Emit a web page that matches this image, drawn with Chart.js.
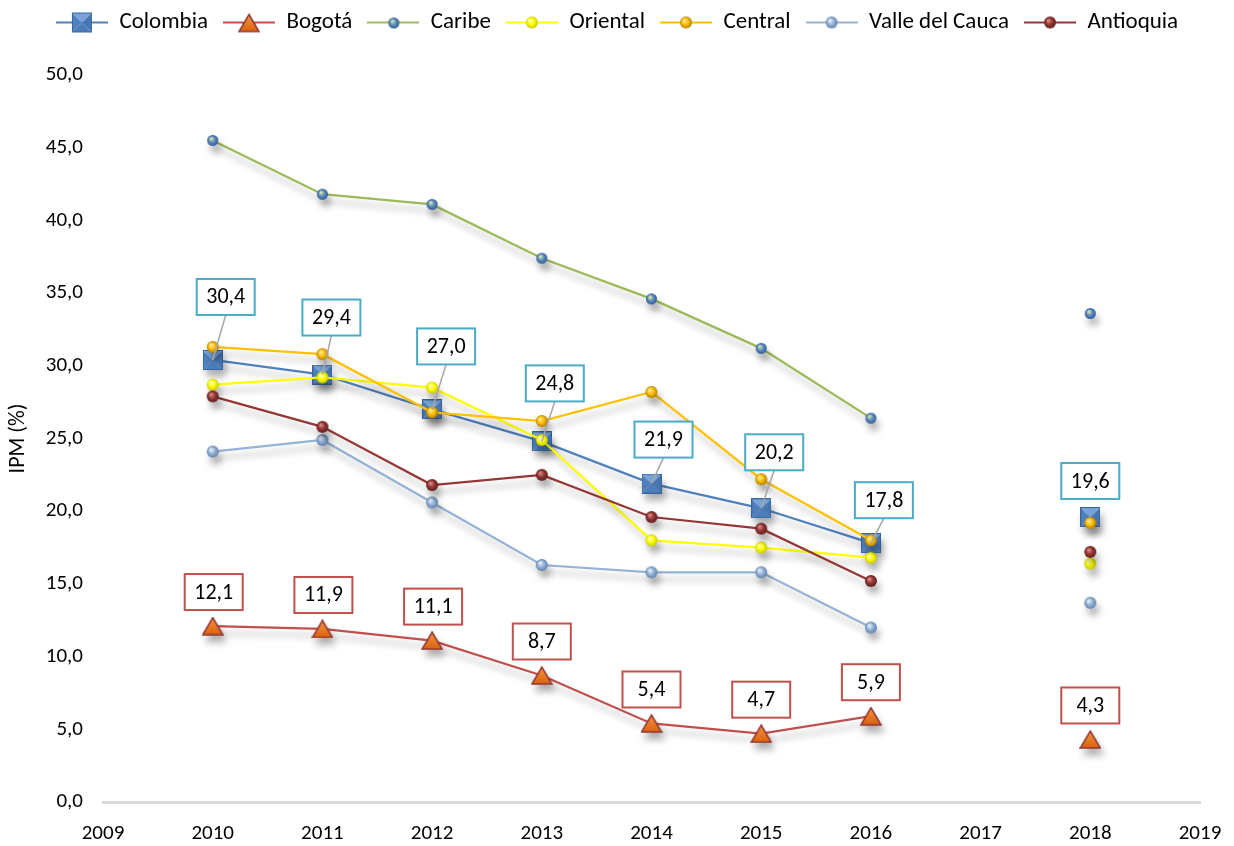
<!DOCTYPE html>
<html>
<head>
<meta charset="utf-8">
<script src="https://cdn.jsdelivr.net/npm/chart.js@4"></script>
<style>
html,body{margin:0;padding:0;background:#fff;}
#wrap{width:1234px;height:846px;}
</style>
</head>
<body>
<div id="wrap"><canvas id="c" width="1234" height="846"></canvas></div>
<script>
// ---- data ----
const years = [2010, 2011, 2012, 2013, 2014, 2015, 2016, 2017, 2018];
const colombia  = [30.4, 29.4, 27.0, 24.8, 21.9, 20.2, 17.8, null, 19.6];
const bogota    = [12.1, 11.9, 11.1, 8.7, 5.4, 4.7, 5.9, null, 4.3];
const caribe    = [45.5, 41.8, 41.1, 37.4, 34.6, 31.2, 26.4, null, 33.6];
const oriental  = [28.7, 29.2, 28.5, 24.9, 18.0, 17.5, 16.8, null, 16.4];
const central   = [31.3, 30.8, 26.8, 26.2, 28.2, 22.2, 18.0, null, 19.2];
const valle     = [24.1, 24.9, 20.6, 16.3, 15.8, 15.8, 12.0, null, 13.7];
const antioquia = [27.9, 25.8, 21.8, 22.5, 19.6, 18.8, 15.2, null, 17.2];
const seriesNames = ['Colombia', 'Bogotá', 'Caribe', 'Oriental', 'Central', 'Valle del Cauca', 'Antioquia'];
const xTickValues = [2009, 2010, 2011, 2012, 2013, 2014, 2015, 2016, 2017, 2018, 2019];
const yAxisTitle = 'IPM (%)';

const FONT = 'Carlito, Lato, "Open Sans", sans-serif';

// ---- marker images ----
function sphere(light, base, dark, r) {
  const c = document.createElement('canvas');
  const s = r * 2 + 2;
  c.width = s; c.height = s;
  const g = c.getContext('2d');
  const grd = g.createRadialGradient(s/2 - r*0.3, s/2 - r*0.35, r*0.1, s/2, s/2, r);
  grd.addColorStop(0, light);
  grd.addColorStop(0.5, base);
  grd.addColorStop(1, dark);
  g.fillStyle = grd;
  g.beginPath(); g.arc(s/2, s/2, r, 0, Math.PI*2); g.fill();
  return c;
}
function squareMarker(size) {
  const c = document.createElement('canvas');
  c.width = size; c.height = size;
  const g = c.getContext('2d');
  const m = size/2;
  const tri = (pts, col) => { g.fillStyle = col; g.beginPath(); g.moveTo(pts[0],pts[1]); g.lineTo(pts[2],pts[3]); g.lineTo(pts[4],pts[5]); g.closePath(); g.fill(); };
  tri([0,0,0,size,m,m], '#4F80BE');
  tri([size,0,size,size,m,m], '#4777B3');
  tri([0,size,size,size,m,m], '#4C7DBA');
  tri([0,0,size,0,m,m], '#78A2D8');
  g.strokeStyle = '#3A659C'; g.lineWidth = 1;
  g.strokeRect(0.5,0.5,size-1,size-1);
  return c;
}
function triangleMarker(w, h) {
  const c = document.createElement('canvas');
  c.width = w; c.height = h;
  const g = c.getContext('2d');
  const grd = g.createLinearGradient(0, 0, 0, h);
  grd.addColorStop(0, '#F79646');
  grd.addColorStop(1, '#D8600A');
  g.fillStyle = grd;
  g.strokeStyle = '#943634'; g.lineWidth = 1.5;
  g.beginPath(); g.moveTo(w/2, 1); g.lineTo(w-1, h-1); g.lineTo(1, h-1); g.closePath();
  g.fill(); g.stroke();
  return c;
}
const markers = [
  squareMarker(20),
  triangleMarker(22, 19),
  sphere('#D6E8A0', '#5D8CC4', '#2E5A92', 5.5),
  sphere('#FFFFC0', '#FFFF00', '#C8C800', 6),
  sphere('#FFE79A', '#FFC000', '#B07D00', 6),
  sphere('#E6EEF8', '#95B3D7', '#5E80AC', 6),
  sphere('#D88A88', '#953735', '#5C1E1D', 6)
];
const lineColors = ['#4F81BD', '#C0504D', '#9BBB59', '#FFFF00', '#FFC000', '#95B3D7', '#953735'];
const seriesValues = [colombia, bogota, caribe, oriental, central, valle, antioquia];

function legendIcon(i) {
  const w = 52, h = 22;
  const c = document.createElement('canvas');
  c.width = w; c.height = h;
  const g = c.getContext('2d');
  g.strokeStyle = lineColors[i]; g.lineWidth = 2;
  g.beginPath(); g.moveTo(0, h/2); g.lineTo(w, h/2); g.stroke();
  const m = markers[i];
  g.drawImage(m, Math.round((w - m.width)/2), Math.round((h - m.height)/2));
  return c;
}

const datasets = seriesNames.map((name, i) => ({
  label: name,
  data: years.map((y, k) => ({ x: y, y: seriesValues[i][k] })),
  borderColor: lineColors[i],
  backgroundColor: lineColors[i],
  borderWidth: 2.25,
  pointStyle: markers[i],
  pointRadius: 8,
  tension: 0,
  spanGaps: false,
  order: 7 - i
}));

// ---- plugins ----
const shadowPlugin = {
  id: 'shadow',
  beforeDatasetsDraw(chart) {
    const ctx = chart.ctx;
    ctx.save();
    ctx.shadowColor = 'rgba(0,0,0,0.30)';
    ctx.shadowBlur = 7;
    ctx.shadowOffsetX = 3;
    ctx.shadowOffsetY = 7;
  },
  afterDatasetsDraw(chart) {
    chart.ctx.restore();
  }
};

// extra room below the legend, and legend centred on the full canvas width
const legendGap = {
  id: 'legendGap',
  beforeLayout(chart) {
    const lg = chart.legend;
    if (!lg || lg._gapPatched) return;
    const fit = lg.fit;
    lg.fit = function () { fit.call(this); this.height += 31; };
    const draw = lg.draw;
    lg.draw = function () {
      const ctx = this.ctx;
      ctx.save(); ctx.translate(17, 0);
      draw.call(this);
      ctx.restore();
    };
    lg._gapPatched = true;
  }
};

const labelOffsets = {
  0: [[13,-63],[9,-57],[14,-63],[13,-58],[12,-44],[13,-56],[13,-43],null,[0,-36]],
  1: [[1,-34],[1,-34],[1,-34],[0,-34],[0,-34],[0,-34],[0,-34],null,[0,-34]]
};
const labelBorders = { 0: '#4BACC6', 1: '#C0504D' };

const labelPlugin = {
  id: 'boxLabels',
  afterDatasetsDraw(chart) {
    const ctx = chart.ctx;
    const xs = chart.scales.x, ys = chart.scales.y;
    ctx.save();
    ctx.font = '22px ' + FONT;
    ctx.textAlign = 'center';
    ctx.textBaseline = 'middle';
    [0, 1].forEach(di => {
      const vals = seriesValues[di];
      vals.forEach((v, k) => {
        if (v === null) return;
        const off = labelOffsets[di][k];
        const px = xs.getPixelForValue(years[k]);
        const py = ys.getPixelForValue(v);
        const cx = px + off[0], cy = py + off[1];
        const bw = 58, bh = 36;
        if (off[1] < -40) {
          ctx.strokeStyle = '#A6A6A6'; ctx.lineWidth = 1.5;
          ctx.beginPath(); ctx.moveTo(px, py); ctx.lineTo(cx, cy + bh/2); ctx.stroke();
        }
        ctx.fillStyle = '#FFFFFF';
        ctx.fillRect(cx - bw/2, cy - bh/2, bw, bh);
        ctx.strokeStyle = labelBorders[di]; ctx.lineWidth = 2;
        ctx.strokeRect(cx - bw/2, cy - bh/2, bw, bh);
        ctx.fillStyle = '#000';
        ctx.fillText(v.toFixed(1).replace('.', ','), cx, cy + 1);
      });
    });
    ctx.restore();
  }
};

new Chart(document.getElementById('c'), {
  type: 'line',
  data: { datasets },
  options: {
    responsive: false,
    animation: false,
    layout: { padding: { left: 0, right: 34, top: -4, bottom: 0 } },
    plugins: {
      legend: {
        position: 'top',
        labels: {
          usePointStyle: true,
          pointStyleWidth: 52,
          padding: 15,
          color: '#000',
          font: { family: FONT, size: 23 },
          generateLabels(chart) {
            return chart.data.datasets.map((d, i) => ({
              text: d.label,
              pointStyle: legendIcon(i),
              fillStyle: 'transparent',
              strokeStyle: 'transparent',
              lineWidth: 0,
              fontColor: '#000',
              datasetIndex: i,
              hidden: false
            }));
          }
        }
      },
      tooltip: { enabled: false }
    },
    scales: {
      x: {
        type: 'linear',
        min: 2009, max: 2019,
        afterBuildTicks(axis) { axis.ticks = xTickValues.map(v => ({ value: v })); },
        afterFit(s) { s.height = 44; s.paddingLeft = 0; s.paddingRight = 0; },
        grid: { display: false, drawTicks: false },
        border: { display: true, color: '#D9D9D9', width: 3 },
        ticks: { color: '#000', font: { family: FONT, size: 21 }, padding: 19, maxRotation: 0, callback: v => String(v) }
      },
      y: {
        min: 0, max: 50,
        afterFit(s) { s.width = 103; s.paddingTop = 0; s.paddingBottom = 0; },
        grid: { display: false, drawTicks: false },
        border: { display: false },
        ticks: {
          stepSize: 5, color: '#000', font: { family: FONT, size: 21 }, padding: 20,
          callback: v => v.toFixed(1).replace('.', ',')
        },
        title: { display: true, text: yAxisTitle, color: '#000', font: { family: FONT, size: 22 }, padding: { top: 5, bottom: 2 } }
      }
    }
  },
  plugins: [legendGap, shadowPlugin, labelPlugin]
});
</script>
</body>
</html>
